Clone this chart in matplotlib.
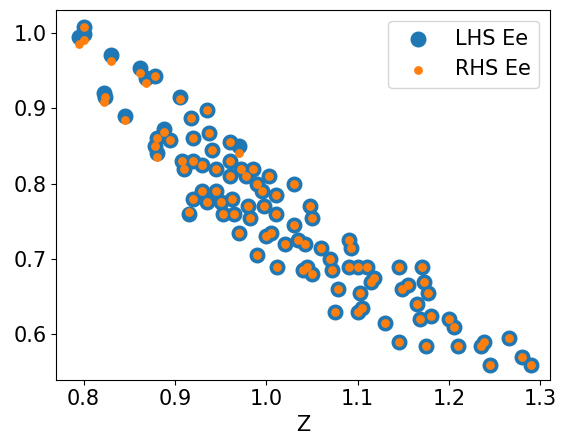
import matplotlib
matplotlib.use("Agg")
import matplotlib.pyplot as plt

z = [0.80,0.795,0.80,0.83,0.822,0.823,0.845,0.862,0.868,0.878,0.88,0.878,0.88,0.888,0.895,0.905,
     0.908,0.91,0.918,0.92,0.92,0.915,0.92,0.93,0.935,0.937,0.93,0.935,0.94,0.945,0.945,0.95,0.953,
     0.96,0.96,0.96,0.962,0.965,0.97,0.972,0.97,0.978,0.98,0.982,0.985,0.99,0.99,0.995,0.997,
     1.0,1.003,1.005,1.01,1.01,1.012,1.02,1.03,1.03,1.035,1.04,1.042,1.045,1.048,1.05,1.05,1.06,
     1.07,1.072,1.075,1.078,1.09,1.093,1.09,1.1,1.1,1.102,1.105,1.11,1.115,1.118,1.13,1.145,1.148,
     1.145,1.155,1.165,1.168,1.17,1.173,1.177,1.175,1.18,1.2,1.205,1.21,1.235,1.238,1.245,1.265,1.28,1.29]
lhs = [1.008,0.995,0.998,0.97,0.92,0.915,0.89,0.953,0.94,0.943,0.86,0.85,0.84,0.873,0.858,0.915,
       0.83,0.82,0.887,0.86,0.83,0.76,0.78,0.825,0.897,0.867,0.79,0.775,0.845,0.82,0.79,0.775,0.76,
       0.855,0.83,0.81,0.78,0.76,0.85,0.82,0.735,0.81,0.77,0.755,0.82,0.80,0.705,0.79,0.77,
       0.73,0.81,0.735,0.785,0.76,0.69,0.72,0.80,0.745,0.725,0.685,0.72,0.69,0.77,0.755,0.68,0.715,
       0.70,0.685,0.63,0.66,0.725,0.715,0.69,0.69,0.63,0.655,0.635,0.69,0.67,0.675,0.615,0.69,0.66,
       0.59,0.665,0.64,0.62,0.69,0.67,0.655,0.585,0.625,0.62,0.61,0.585,0.585,0.59,0.56,0.595,0.57,0.56]
rhs = list(lhs)
rhs[1] = 0.985; rhs[2] = 0.99; rhs[3] = 0.963; rhs[4] = 0.908; rhs[6] = 0.885; rhs[7] = 0.947
rhs[8] = 0.933; rhs[12] = 0.835; rhs[13] = 0.868; rhs[15] = 0.912; rhs[21] = 0.763; rhs[38] = 0.84

plt.rcParams['font.size'] = 15
fig, ax = plt.subplots(figsize=(5.62, 4.44), dpi=100)
ax.scatter(z, lhs, s=110, color='#1f77b4', label='LHS Ee')
ax.scatter(z, rhs, s=28, color='#ff7f0e', label='RHS Ee')
ax.set_xlabel('Z')
ax.set_xlim(0.77, 1.31)
ax.set_ylim(0.54, 1.03)
ax.set_yticks([0.6, 0.7, 0.8, 0.9, 1.0])
ax.legend(loc='upper right')
fig.subplots_adjust(left=0.1, right=0.978, top=0.977, bottom=0.145)
fig.savefig('out.png')
